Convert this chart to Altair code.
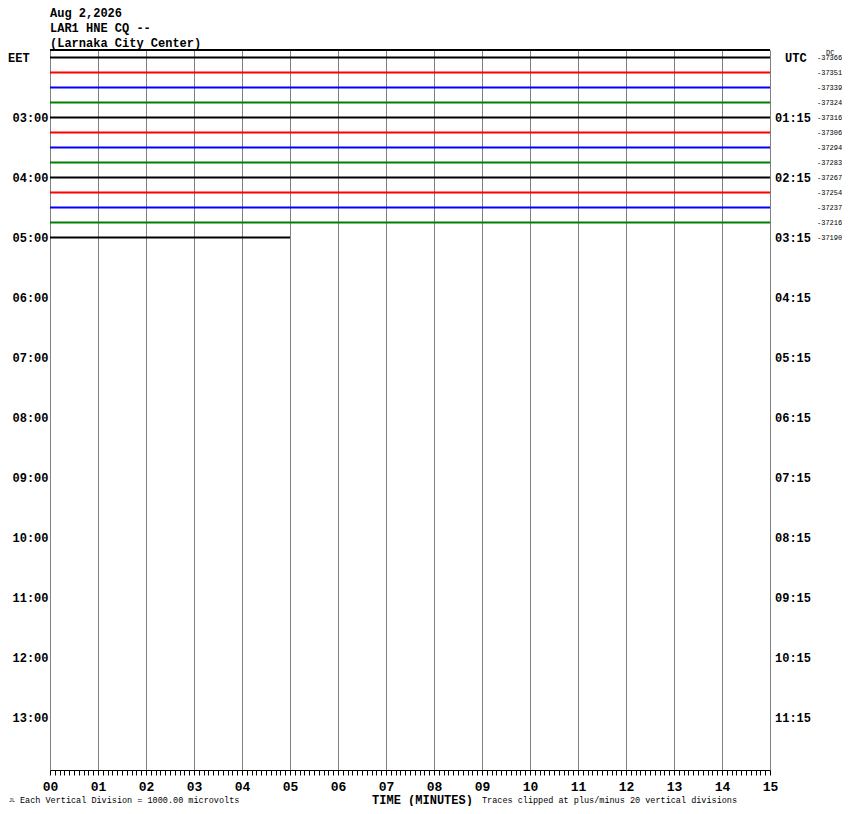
import json
import altair as alt
import pandas as pd

# ---- data ----
trace_rows = [0, 1, 2, 3, 4, 5, 6, 7, 8, 9, 10, 11, 12]
trace_colors = ["#000000", "#ff0000", "#0000ff", "#008000",
                "#000000", "#ff0000", "#0000ff", "#008000",
                "#000000", "#ff0000", "#0000ff", "#008000",
                "#000000"]
trace_end_min = [15, 15, 15, 15, 15, 15, 15, 15, 15, 15, 15, 15, 5]
dc_values = [-37366, -37351, -37339, -37324, -37316, -37306, -37294,
             -37283, -37267, -37254, -37237, -37216, -37190]

hour_rows = [4, 8, 12, 16, 20, 24, 28, 32, 36, 40, 44]
eet_labels = ["03:00", "04:00", "05:00", "06:00", "07:00", "08:00",
              "09:00", "10:00", "11:00", "12:00", "13:00"]
utc_labels = ["01:15", "02:15", "03:15", "04:15", "05:15", "06:15",
              "07:15", "08:15", "09:15", "10:15", "11:15"]
minute_ticks = [i / 10 for i in range(151)]

FONT = "Liberation Mono"

traces = pd.DataFrame({"row": trace_rows, "color": trace_colors,
                       "start": [0] * len(trace_rows), "end": trace_end_min,
                       "dc": [str(v) for v in dc_values]})
hours = pd.DataFrame({"row": hour_rows, "utc": utc_labels})

xscale = alt.Scale(domain=[0, 15], nice=False, zero=False)
yscale = alt.Scale(domain=[-0.5, 47.5], reverse=True, nice=False, zero=False)

is_int = "abs(datum.value - round(datum.value)) < 0.001"
xaxis = alt.Axis(
    values=minute_ticks,
    labelExpr=f"{is_int} ? (round(datum.value) < 10 ? '0' : '') + round(datum.value) : ''",
    labelOverlap=False, labelFont=FONT, labelFontSize=13, labelFontWeight="bold",
    labelColor="#000000", labelPadding=5, labelFlush=False,
    grid=True, gridColor="#808080", gridWidth=1,
    gridOpacity={"condition": {"test": is_int, "value": 1}, "value": 0},
    tickColor="#000000", tickSize=5, domainColor="#000000", domainWidth=1,
    title="TIME (MINUTES)", titleFont=FONT, titleFontSize=12, titleFontWeight="bold",
    titleColor="#000000", titlePadding=1, titleX=372,
)
yaxis = alt.Axis(
    values=hour_rows,
    labelExpr=f"{json.dumps(eet_labels)}[round(datum.value / 4) - 1]",
    labelFont=FONT, labelFontSize=12, labelFontWeight="bold", labelColor="#000000",
    labelPadding=2, ticks=False, domain=False, grid=False, title=None,
)

lines = alt.Chart(traces).mark_rule(strokeWidth=2).encode(
    x=alt.X("start:Q", scale=xscale, axis=xaxis),
    x2="end:Q",
    y=alt.Y("row:Q", scale=yscale, axis=yaxis),
    color=alt.Color("color:N", scale=None),
)

top_border = alt.Chart(traces).mark_rule(color="#000000", strokeWidth=1).encode(
    x=alt.value(0), x2=alt.value(720), y=alt.value(0)
)

utc_text = alt.Chart(hours).mark_text(
    align="left", baseline="middle", font=FONT, fontSize=12, fontWeight="bold", color="#000000"
).encode(x=alt.value(725), y=alt.Y("row:Q", scale=yscale), text="utc:N")

dc_text = alt.Chart(traces).mark_text(
    align="left", baseline="middle", font=FONT, fontSize=7, color="#000000"
).encode(x=alt.value(767), y=alt.Y("row:Q", scale=yscale), text="dc:N")

heads = pd.DataFrame({"row": [0, 0], "t": ["EET", "UTC"], "px": [-42, 735]})
head_text = alt.Chart(heads).mark_text(
    align="left", baseline="middle", font=FONT, fontSize=12, fontWeight="bold", color="#000000"
).encode(x=alt.X("px:Q", scale=None), y=alt.Y("row:Q", scale=yscale), text="t:N")

dc_head = alt.Chart(pd.DataFrame({"t": ["DC"]})).mark_text(
    align="left", baseline="middle", font=FONT, fontSize=7, color="#000000"
).encode(x=alt.value(776), y=alt.value(3), text="t:N")

notes = pd.DataFrame({"t": ["JL", "Each Vertical Division = 1000.00 microvolts",
                            "Traces clipped at plus/minus 20 vertical divisions"],
                      "px": [-41, -30, 432], "fs": [5, 8.5, 8.5]})
note_text = alt.Chart(notes).mark_text(
    align="left", baseline="middle", font=FONT, color="#000000"
).encode(x=alt.X("px:Q", scale=None), y=alt.value(750), text="t:N",
         size=alt.Size("fs:Q", scale=None, legend=None))

chart = alt.layer(lines, top_border, utc_text, dc_text, head_text, dc_head, note_text).properties(
    width=720, height=720,
    title=alt.TitleParams(
        text=["Aug 2,2026", "LAR1 HNE CQ --", "(Larnaka City Center)"],
        anchor="start", frame="group", font=FONT, fontSize=12, fontWeight="bold",
        color="#000000", lineHeight=15, offset=-1,
    ),
    autosize=alt.AutoSizeParams(type="none"),
    padding={"left": 42, "top": 42, "right": 72, "bottom": 36},
).configure_view(stroke=None).configure(background="#ffffff")

chart.save("out.html", embed_options={"renderer": "svg", "actions": False})
